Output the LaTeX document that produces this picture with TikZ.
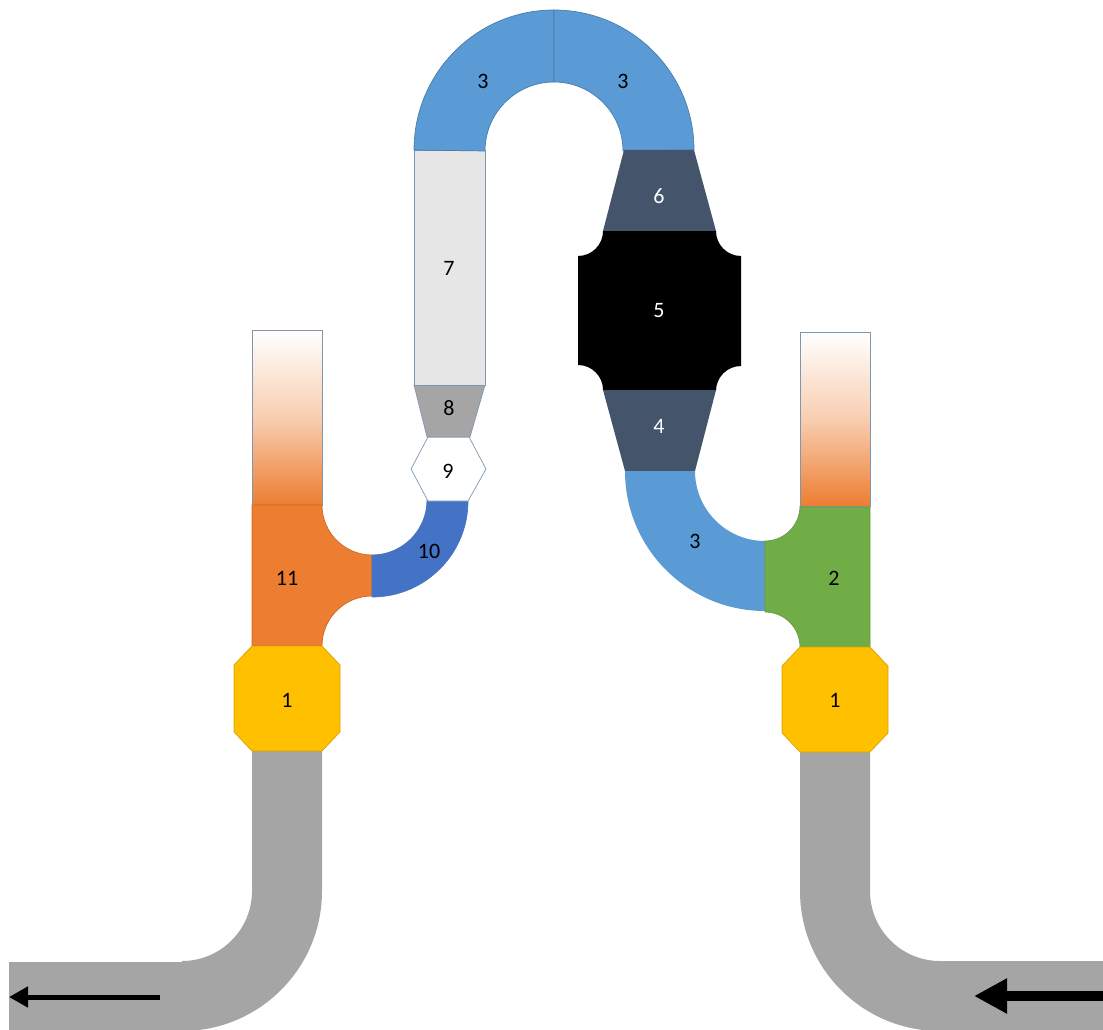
\documentclass[tikz,border=0pt]{standalone}
\usepackage{fontspec}
\setmainfont{Carlito}
\usetikzlibrary{arrows.meta}
\definecolor{pipegrey}{HTML}{A5A5A5}
\definecolor{bendblue}{HTML}{5B9BD5}
\definecolor{slate}{HTML}{44546A}
\definecolor{pale}{HTML}{E7E6E6}
\definecolor{royal}{HTML}{4472C4}
\definecolor{tee}{HTML}{ED7D31}
\definecolor{leaf}{HTML}{70AD47}
\definecolor{amber}{HTML}{FFC000}
\definecolor{rim}{HTML}{7F97AE}
\tikzset{
  part/.style={draw=rim,line width=0.7pt},
  tank/.style={part,top color=white,bottom color=tee,middle color=tee!38!white},
  lbl/.style={font=\fontsize{22}{26}\selectfont,inner sep=0pt},
}
\begin{document}
\begin{tikzpicture}[x=1pt,y=-1pt]
\useasboundingbox (0,0) rectangle (1103,1030);
% grey pipes
\fill[pipegrey] (252,751) -- (322,751) -- (322,891) arc (0:90:140) -- (182,961) arc (90:0:70) -- cycle;
\fill[pipegrey] (9,962) rectangle (182,1030);
\fill[pipegrey] (800,751) -- (870,751) -- (870,891) arc (180:90:70) -- (1103,961) -- (1103,1030) -- (940,1031) arc (90:180:140) -- cycle;
% left branch
\draw[tank] (252,330) rectangle (322,505);
\draw[part,fill=tee,draw=tee!85!black] (252,505) -- (322,505) arc (180:90:50) -- (372,596) arc (270:180:50) -- (252,646) -- cycle;
\draw[part,fill=royal,draw=royal] (372,555) arc (90:0:55) -- (468,501) arc (0:90:96) -- cycle;
\draw[part,fill=white] (428,437) -- (469,437) -- (486,469) -- (468,501) -- (428,501) -- (411,469) -- cycle;
\draw[part,fill=pipegrey] (414,385) -- (485,385) -- (470,437) -- (427,437) -- cycle;
\draw[part,fill=pale] (414,150) rectangle (485,385);
% top bends
\draw[part,fill=bendblue,draw=bendblue!80!black] (414,150) arc (180:270:140) -- (554,82) arc (270:180:69) -- cycle;
\draw[part,fill=bendblue,draw=bendblue!80!black] (694,150) arc (0:-90:140) -- (554,82) arc (-90:0:69) -- cycle;
% right branch
\fill[slate] (624,150) -- (694,150) -- (716,231) -- (603,231) -- cycle;
\fill[black] (603,231) -- (716,231) arc (180:90:25) -- (741,366) arc (270:180:25) -- (603,390) arc (0:-90:25) -- (578,256) arc (90:0:25) -- cycle;
\fill[slate] (603,390) -- (716,390) -- (695,471) -- (625,471) -- cycle;
\fill[bendblue] (625,471) -- (695,471) arc (180:90:70) -- (765,611) arc (90:180:140) -- cycle;
\draw[tank] (800,332) rectangle (870,506);
\draw[part,fill=leaf,draw=leaf!90!black] (800,507) -- (870,507) -- (870,647) -- (800,647) arc (0:-90:35) -- (765,541) arc (90:0:35) -- cycle;
% couplings
\foreach \x/\y in {234/646,782/647}
  \draw[part,fill=amber,draw=amber!85!black] (\x+18,\y) -- (\x+88,\y) -- (\x+106,\y+19) -- (\x+106,\y+86) -- (\x+88,\y+105)
    -- (\x+18,\y+105) -- (\x,\y+86) -- (\x,\y+19) -- cycle;
% flow arrows
\coordinate (outStart) at (160,997);
\coordinate (outEnd) at (9,997);
\coordinate (inStart) at (1103,996);
\coordinate (inEnd) at (974,996);
\draw[-{Triangle[length=19pt,width=20pt]},line width=5pt] (outStart) -- (outEnd);
\draw[-{Triangle[length=33pt,width=33pt]},line width=10pt] (inStart) -- (inEnd);
% numbers
\node[lbl] (teeNum) at (287,578) {11};
\node[lbl] (leftOne) at (287,700) {1};
\node[lbl] (bendNum) at (429,551) {10};
\node[lbl] (hexNum) at (448,471) {9};
\node[lbl] (coneNum) at (449,408) {8};
\node[lbl] (paleNum) at (449,268) {7};
\node[lbl] (topLeft) at (483,81) {3};
\node[lbl] (topRight) at (623,81) {3};
\node[lbl,white] (upperNum) at (659,196) {6};
\node[lbl,white] (blackNum) at (659,311) {5};
\node[lbl,white] (lowerNum) at (659,426) {4};
\node[lbl] (lowBend) at (695,541) {3};
\node[lbl] (greenNum) at (834,578) {2};
\node[lbl] (rightOne) at (835,700) {1};
\end{tikzpicture}
\end{document}
